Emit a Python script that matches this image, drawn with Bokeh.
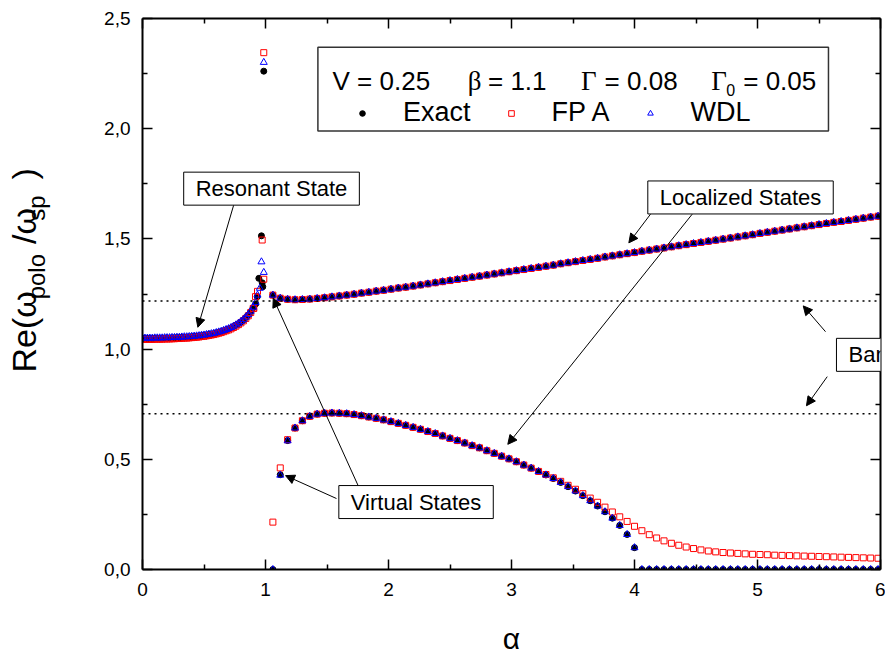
import math
from bokeh.plotting import figure
from bokeh.models import (Range1d, FixedTicker, LinearAxis, Span, Label, Arrow, NormalHead,
                          BoxAnnotation, Legend, LegendItem, ColumnDataSource)
from bokeh.embed import file_html
from bokeh.resources import INLINE

# ---------------- data ----------------
# resonant branch (alpha < 1)
res_alpha = [0.00, 0.02, 0.04, 0.06, 0.08, 0.10, 0.12, 0.14, 0.16, 0.18,
             0.20, 0.22, 0.24, 0.26, 0.28, 0.30, 0.32, 0.34, 0.36, 0.38,
             0.40, 0.42, 0.44, 0.46, 0.48, 0.50, 0.52, 0.54, 0.56, 0.58,
             0.60, 0.62, 0.64, 0.66, 0.68, 0.70, 0.72, 0.74, 0.76, 0.78,
             0.80, 0.82, 0.84, 0.86, 0.88, 0.90]
exact_res = [1.048, 1.048, 1.048, 1.048, 1.048, 1.049, 1.049, 1.049, 1.049, 1.050,
             1.050, 1.050, 1.051, 1.051, 1.052, 1.052, 1.053, 1.054, 1.054, 1.055,
             1.056, 1.057, 1.058, 1.059, 1.061, 1.062, 1.064, 1.066, 1.068, 1.070,
             1.073, 1.076, 1.079, 1.083, 1.087, 1.091, 1.096, 1.102, 1.108, 1.115,
             1.123, 1.132, 1.143, 1.155, 1.170, 1.188]
fpa_res = [1.044, 1.044, 1.044, 1.044, 1.044, 1.045, 1.045, 1.045, 1.045, 1.046,
           1.046, 1.046, 1.047, 1.047, 1.048, 1.048, 1.049, 1.050, 1.050, 1.051,
           1.052, 1.053, 1.054, 1.055, 1.057, 1.058, 1.060, 1.062, 1.064, 1.066,
           1.069, 1.072, 1.075, 1.079, 1.083, 1.087, 1.092, 1.098, 1.104, 1.111,
           1.119, 1.128, 1.139, 1.151, 1.166, 1.184]
wdl_res = [1.050, 1.050, 1.050, 1.050, 1.050, 1.051, 1.051, 1.051, 1.051, 1.052,
           1.052, 1.052, 1.053, 1.053, 1.054, 1.054, 1.055, 1.056, 1.056, 1.057,
           1.058, 1.059, 1.060, 1.061, 1.063, 1.064, 1.066, 1.068, 1.070, 1.072,
           1.075, 1.078, 1.081, 1.085, 1.089, 1.093, 1.098, 1.104, 1.110, 1.117,
           1.125, 1.134, 1.145, 1.157, 1.172, 1.190]

# points close to the pole (alpha ~ 0.92 - 0.99)
exact_pole_alpha = [0.920, 0.933, 0.946, 0.967, 0.973, 0.978, 0.986]
exact_pole = [1.205, 1.238, 1.321, 1.514, 1.301, 1.283, 2.261]
fpa_pole_alpha = [0.905, 0.919, 0.935, 0.973, 0.986, 0.986]
fpa_pole = [1.185, 1.238, 1.262, 1.495, 1.317, 2.345]
wdl_pole_alpha = [0.920, 0.935, 0.954, 0.967, 0.986, 0.986]
wdl_pole = [1.212, 1.245, 1.276, 1.396, 1.348, 2.301]

# localized / virtual states grid (alpha > 1)
loc_alpha = [1.06, 1.12, 1.18, 1.24, 1.30, 1.36, 1.42, 1.48, 1.54, 1.60,
             1.66, 1.72, 1.78, 1.84, 1.90, 1.96, 2.02, 2.08, 2.14, 2.20,
             2.26, 2.32, 2.38, 2.44, 2.50, 2.56, 2.62, 2.68, 2.74, 2.80,
             2.86, 2.92, 2.98, 3.04, 3.10, 3.16, 3.22, 3.28, 3.34, 3.40,
             3.46, 3.52, 3.58, 3.64, 3.70, 3.76, 3.82, 3.88, 3.94, 4.00,
             4.06, 4.12, 4.18, 4.24, 4.30, 4.36, 4.42, 4.48, 4.54, 4.60,
             4.66, 4.72, 4.78, 4.84, 4.90, 4.96, 5.02, 5.08, 5.14, 5.20,
             5.26, 5.32, 5.38, 5.44, 5.50, 5.56, 5.62, 5.68, 5.74, 5.80,
             5.86, 5.92, 5.98]
# upper branch (same for the three methods)
upper_loc = [1.245, 1.231, 1.226, 1.224, 1.225, 1.227, 1.230, 1.233, 1.237, 1.241,
             1.245, 1.249, 1.254, 1.258, 1.263, 1.267, 1.272, 1.277, 1.281, 1.286,
             1.291, 1.296, 1.301, 1.306, 1.311, 1.316, 1.321, 1.326, 1.331, 1.336,
             1.341, 1.346, 1.351, 1.356, 1.361, 1.366, 1.371, 1.376, 1.381, 1.387,
             1.392, 1.397, 1.402, 1.407, 1.412, 1.418, 1.423, 1.428, 1.433, 1.438,
             1.444, 1.449, 1.454, 1.459, 1.464, 1.469, 1.474, 1.479, 1.484, 1.489,
             1.494, 1.499, 1.504, 1.509, 1.514, 1.519, 1.525, 1.530, 1.535, 1.540,
             1.545, 1.550, 1.555, 1.560, 1.565, 1.570, 1.575, 1.579, 1.584, 1.589,
             1.594, 1.599, 1.603]
# lower branch
exact_lower = [0.000, 0.430, 0.585, 0.642, 0.675, 0.695, 0.705, 0.709, 0.710, 0.709,
               0.707, 0.703, 0.698, 0.692, 0.686, 0.679, 0.671, 0.663, 0.654, 0.645,
               0.636, 0.626, 0.617, 0.606, 0.595, 0.585, 0.574, 0.562, 0.552, 0.539,
               0.527, 0.514, 0.502, 0.489, 0.474, 0.460, 0.445, 0.429, 0.413, 0.395,
               0.376, 0.356, 0.335, 0.312, 0.288, 0.262, 0.233, 0.200, 0.159, 0.099,
               0.000, 0.000, 0.000, 0.000, 0.000, 0.000, 0.000, 0.000, 0.000, 0.000,
               0.000, 0.000, 0.000, 0.000, 0.000, 0.000, 0.000, 0.000, 0.000, 0.000,
               0.000, 0.000, 0.000, 0.000, 0.000, 0.000, 0.000, 0.000, 0.000, 0.000,
               0.000, 0.000, 0.000]
wdl_lower = [0.000, 0.428, 0.584, 0.642, 0.675, 0.695, 0.705, 0.709, 0.710, 0.709,
             0.707, 0.703, 0.698, 0.692, 0.686, 0.679, 0.671, 0.663, 0.654, 0.645,
             0.636, 0.626, 0.617, 0.606, 0.595, 0.585, 0.574, 0.562, 0.552, 0.539,
             0.527, 0.514, 0.502, 0.489, 0.474, 0.460, 0.445, 0.429, 0.413, 0.395,
             0.376, 0.356, 0.335, 0.312, 0.288, 0.262, 0.233, 0.200, 0.159, 0.099,
             0.000, 0.000, 0.000, 0.000, 0.000, 0.000, 0.000, 0.000, 0.000, 0.000,
             0.000, 0.000, 0.000, 0.000, 0.000, 0.000, 0.000, 0.000, 0.000, 0.000,
             0.000, 0.000, 0.000, 0.000, 0.000, 0.000, 0.000, 0.000, 0.000, 0.000,
             0.000, 0.000, 0.000]
fpa_lower = [0.215, 0.461, 0.589, 0.642, 0.675, 0.695, 0.705, 0.709, 0.710, 0.709,
             0.707, 0.703, 0.698, 0.692, 0.686, 0.679, 0.671, 0.663, 0.654, 0.645,
             0.636, 0.626, 0.617, 0.606, 0.595, 0.585, 0.574, 0.562, 0.552, 0.539,
             0.527, 0.514, 0.502, 0.489, 0.474, 0.460, 0.445, 0.431, 0.416, 0.400,
             0.382, 0.364, 0.344, 0.324, 0.305, 0.283, 0.261, 0.239, 0.218, 0.196,
             0.176, 0.158, 0.143, 0.130, 0.119, 0.110, 0.102, 0.095, 0.089, 0.084,
             0.080, 0.077, 0.075, 0.073, 0.071, 0.069, 0.068, 0.067, 0.065, 0.064,
             0.063, 0.062, 0.061, 0.060, 0.059, 0.058, 0.057, 0.056, 0.055, 0.054,
             0.053, 0.052, 0.051]

band_edges = [0.707, 1.218]

x_ticks = [0, 1, 2, 3, 4, 5, 6]
x_minor = [0.5, 1.5, 2.5, 3.5, 4.5, 5.5]
y_ticks = [0.0, 0.5, 1.0, 1.5, 2.0, 2.5]
y_minor = [0.25, 0.75, 1.25, 1.75, 2.25]
y_tick_labels = ["0,0", "0,5", "1,0", "1,5", "2,0", "2,5"]

series_names = ["Exact", "FP A", "WDL"]

# ---------------- figure ----------------
FONT = "Liberation Sans"
NB = "\u00a0"
p = figure(width=885, height=657, x_range=Range1d(0, 6), y_range=Range1d(0, 2.5),
           output_backend="svg", toolbar_location=None,
           min_border_left=142, min_border_right=5, min_border_top=18, min_border_bottom=87)
p.xgrid.grid_line_color = None
p.ygrid.grid_line_color = None
p.outline_line_color = None
p.background_fill_color = "white"
p.border_fill_color = "white"

xt = FixedTicker(ticks=x_ticks, minor_ticks=x_minor)
yt = FixedTicker(ticks=y_ticks, minor_ticks=y_minor)

top_axis = LinearAxis()
right_axis = LinearAxis()
p.add_layout(top_axis, "above")
p.add_layout(right_axis, "right")


def style_axis(ax, ticker, show):
    ax.ticker = ticker
    ax.axis_line_width = 2
    ax.axis_line_color = "black"
    ax.major_tick_in = 10
    ax.major_tick_out = 0
    ax.minor_tick_in = 5
    ax.minor_tick_out = 0
    ax.major_tick_line_width = 1.5
    ax.minor_tick_line_width = 1.5
    ax.major_tick_line_color = "black"
    ax.minor_tick_line_color = "black"
    ax.major_label_text_font = FONT
    if show:
        ax.major_label_text_font_size = "19px"
        ax.major_label_text_color = "black"
    else:
        ax.major_label_text_font_size = "0px"
        ax.major_label_text_color = None
        ax.major_label_standoff = 0


style_axis(p.below[0], xt, True)
style_axis(top_axis, xt, False)
style_axis(p.left[0], yt, True)
style_axis(right_axis, yt, False)

xax = p.below[0]
xax.major_label_standoff = 13
xax.axis_label = "α"
xax.axis_label_text_font = FONT
xax.axis_label_text_font_size = "30px"
xax.axis_label_text_font_style = "normal"
xax.axis_label_text_color = "black"
xax.axis_label_standoff = 23

# y title: subscripts carried by the inner (real) axis, main text by an outer label-only axis
yax = p.left[0]
yax.major_label_standoff = 12
yax.major_label_overrides = {t: s for t, s in zip(y_ticks, y_tick_labels)}
yax.axis_label = NB * 14 + "polo" + NB * 5 + "sp"
yax.axis_label_text_font = FONT
yax.axis_label_text_font_size = "24px"
yax.axis_label_text_font_style = "normal"
yax.axis_label_text_color = "black"
yax.axis_label_standoff = 51

ytitle_axis = LinearAxis(ticker=FixedTicker(ticks=[], minor_ticks=[]),
                         axis_line_color=None, major_tick_line_color=None,
                         minor_tick_line_color=None, major_label_text_font_size="0px",
                         major_label_text_color=None, major_label_standoff=0,
                         major_tick_in=0, major_tick_out=0, minor_tick_in=0, minor_tick_out=0,
                         axis_label=NB * 5 + "Re(ω" + NB * 5 + "/ω" + NB * 3 + ")",
                         axis_label_text_font=FONT, axis_label_text_font_size="34px",
                         axis_label_text_font_style="normal", axis_label_text_color="black",
                         axis_label_standoff=-22)
p.add_layout(ytitle_axis, "left")

# band edges (dotted)
for b in band_edges:
    p.add_layout(Span(location=b, dimension="width", line_color="black",
                      line_width=1.5, line_dash="2 4"))

# ---------------- data marks ----------------
src_exact = ColumnDataSource(dict(x=res_alpha + exact_pole_alpha + loc_alpha + loc_alpha,
                                  y=exact_res + exact_pole + upper_loc + exact_lower))
src_fpa = ColumnDataSource(dict(x=res_alpha + fpa_pole_alpha + loc_alpha + loc_alpha,
                                y=fpa_res + fpa_pole + upper_loc + fpa_lower))
src_wdl = ColumnDataSource(dict(x=res_alpha + wdl_pole_alpha + loc_alpha + loc_alpha,
                                y=wdl_res + wdl_pole + upper_loc + wdl_lower))

r_exact = p.scatter("x", "y", source=src_exact, marker="circle", size=6,
                    fill_color="black", line_color="black", line_width=1)
r_fpa = p.scatter("x", "y", source=src_fpa, marker="square", size=6,
                  fill_color=None, line_color="#ff0000", line_width=1)
r_wdl = p.scatter("x", "y", source=src_wdl, marker="triangle", size=7,
                  fill_color=None, line_color="#0000ff", line_width=1)

# ---------------- legend box ----------------
p.add_layout(BoxAnnotation(left=1.426, right=5.577, bottom=1.990, top=2.370,
                           fill_color="white", fill_alpha=1.0,
                           line_color="#333333", line_width=1.5, line_alpha=1.0))

title_pieces = [
    ("V = 0.25", 1.545, 2.2165, FONT, "26px"),
    ("β", 2.644, 2.2165, "Liberation Serif", "27px"),
    ("= 1.1", 2.809, 2.2165, FONT, "26px"),
    ("Γ", 3.565, 2.2165, "Liberation Serif", "27px"),
    ("= 0.08", 3.757, 2.2165, FONT, "26px"),
    ("Γ", 4.623, 2.2165, "Liberation Serif", "27px"),
    ("0", 4.746, 2.174, FONT, "16px"),
    ("= 0.05", 4.884, 2.2165, FONT, "26px"),
]
for txt, xx, yy, fnt, fs in title_pieces:
    p.add_layout(Label(x=xx, y=yy, text=txt, text_font=fnt, text_font_size=fs,
                       text_align="left", text_baseline="alphabetic", text_color="black"))

legend = Legend(items=[LegendItem(label=series_names[0], renderers=[r_exact]),
                       LegendItem(label=series_names[1], renderers=[r_fpa]),
                       LegendItem(label=series_names[2], renderers=[r_wdl])],
                location=(213, 441), orientation="horizontal",
                background_fill_alpha=0, border_line_color=None,
                padding=0, margin=0, spacing=33, label_standoff=34,
                glyph_width=14, glyph_height=20,
                label_text_font=FONT, label_text_font_size="27px",
                label_text_color="black")
p.add_layout(legend)

# ---------------- annotations ----------------
arrows = [
    (0.741, 1.653, 0.450, 1.099),   # resonant state
    (4.130, 1.612, 3.954, 1.482),   # localized (upper)
    (4.469, 1.612, 2.970, 0.568),   # localized (lower)
    (1.577, 0.322, 1.163, 0.426),   # virtual 1
    (1.756, 0.377, 1.063, 1.231),   # virtual 2
    (5.553, 1.079, 5.372, 1.196),   # band upper
    (5.567, 0.875, 5.398, 0.743),   # band lower
]
for xs, ys, xe, ye in arrows:
    p.add_layout(Arrow(x_start=xs, y_start=ys, x_end=xe, y_end=ye,
                       line_color="black", line_width=1,
                       end=NormalHead(size=9, fill_color="black", line_color="black",
                                      line_width=1)))

boxed = [
    ("Resonant State", 1.049, 1.728, "center"),
    ("Localized States", 4.862, 1.688, "center"),
    ("Virtual States", 2.224, 0.306, "center"),
    ("Band Edges", 5.642, 0.974, "left"),
]
for txt, xx, yy, al in boxed:
    p.add_layout(Label(x=xx, y=yy, text=txt, text_font=FONT, text_font_size="22px",
                       text_align=al, text_baseline="middle", text_color="black",
                       border_line_color="black", border_line_width=1,
                       background_fill_color="white", background_fill_alpha=1.0,
                       padding=(12, 4)))

open("out.html", "w").write(file_html(p, INLINE))
